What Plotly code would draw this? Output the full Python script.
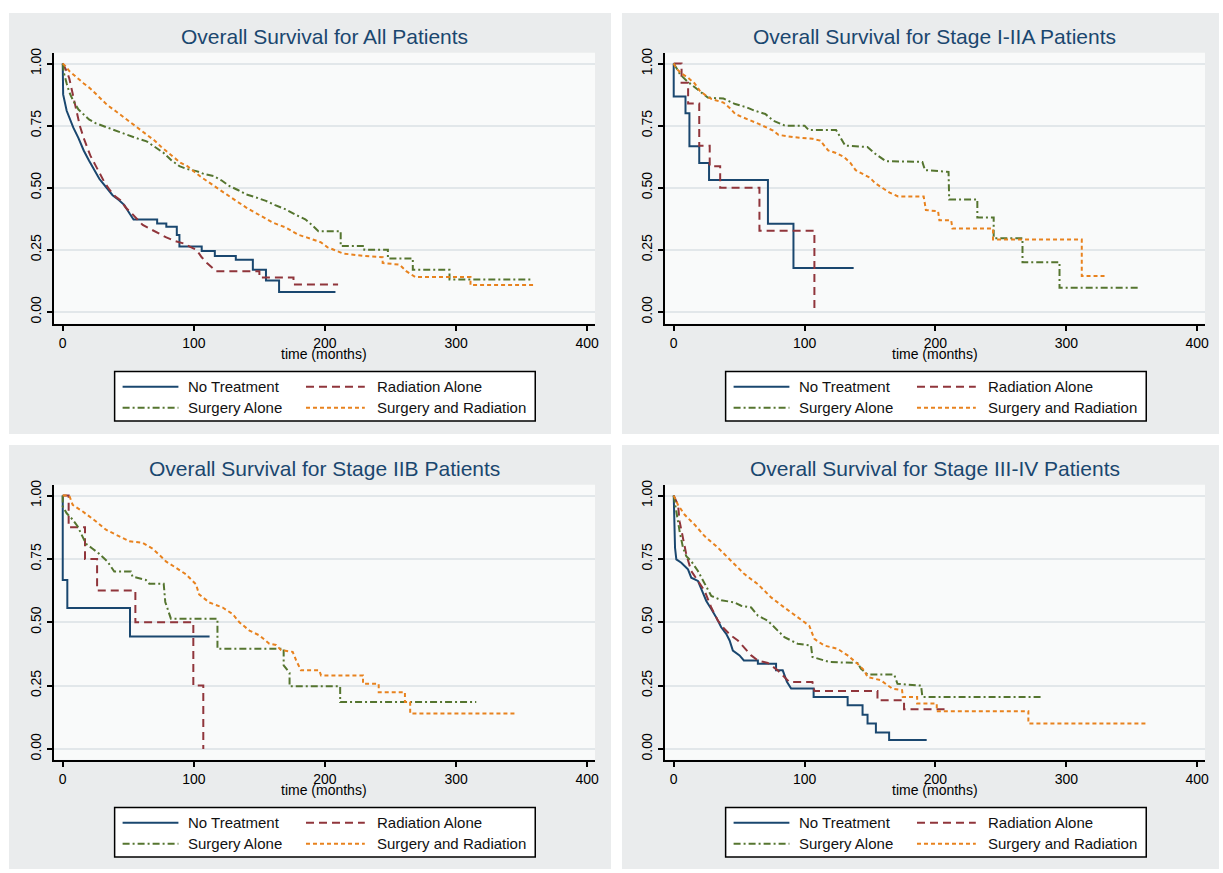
import plotly.graph_objects as go

W, H = 1223, 873

# ---------------- data ----------------
GROUPS = ["No Treatment", "Radiation Alone", "Surgery Alone", "Surgery and Radiation"]
PANEL_TITLES = [
    "Overall Survival for All Patients",
    "Overall Survival for Stage I-IIA Patients",
    "Overall Survival for Stage IIB Patients",
    "Overall Survival for Stage III-IV Patients",
]
X_TICKS = [0, 100, 200, 300, 400]
Y_TICKS = [0, 0.25, 0.5, 0.75, 1.0]
Y_TICK_TEXT = ["0.00", "0.25", "0.50", "0.75", "1.00"]
X_TITLE = "time (months)"

# Curves (step corners listed explicitly).
# Panel 1: All patients
all_nt_t = [0, 0.3, 3, 8, 12, 16, 20, 24, 28, 33, 38, 43, 47, 51, 54, 72, 72, 79, 79, 87, 87, 89, 89, 106, 106, 116, 116, 132, 132, 145, 145, 155, 155, 165, 165, 208]
all_nt_s = [1.0, 0.876, 0.81, 0.743, 0.70, 0.65, 0.61, 0.57, 0.535, 0.503, 0.47, 0.45, 0.43, 0.396, 0.372, 0.372, 0.356, 0.356, 0.343, 0.343, 0.31, 0.31, 0.263, 0.263, 0.245, 0.245, 0.225, 0.225, 0.21, 0.21, 0.17, 0.17, 0.126, 0.126, 0.08, 0.08]
all_ra_t = [0, 3, 5, 7, 9, 11, 13, 16, 19, 21, 25, 28, 32, 36, 40, 44, 48, 52, 56, 61, 66, 72, 79, 86, 92, 98, 102, 106, 110, 117, 150, 150, 176, 176, 210]
all_ra_s = [1.0, 0.97, 0.94, 0.89, 0.85, 0.79, 0.75, 0.70, 0.66, 0.63, 0.59, 0.56, 0.52, 0.49, 0.465, 0.45, 0.42, 0.40, 0.376, 0.35, 0.336, 0.32, 0.30, 0.285, 0.276, 0.26, 0.25, 0.22, 0.197, 0.164, 0.164, 0.138, 0.138, 0.11, 0.11]
all_sa_t = [0, 1, 3, 5, 8, 12, 16, 20, 25, 30, 35, 42, 49, 56, 64, 70, 77, 83, 89, 95, 102, 108, 115, 121, 127, 134, 140, 148, 155, 162, 170, 178, 185, 190, 195, 212, 212, 230, 230, 248, 248, 267, 267, 295, 295, 357]
all_sa_s = [1.0, 0.96, 0.92, 0.885, 0.85, 0.815, 0.795, 0.775, 0.76, 0.75, 0.74, 0.725, 0.713, 0.70, 0.687, 0.665, 0.64, 0.61, 0.587, 0.575, 0.567, 0.555, 0.547, 0.53, 0.507, 0.49, 0.473, 0.46, 0.447, 0.43, 0.413, 0.39, 0.373, 0.35, 0.325, 0.325, 0.265, 0.265, 0.25, 0.25, 0.215, 0.215, 0.17, 0.17, 0.13, 0.13]
all_sr_t = [0, 2, 5, 8, 12, 16, 21, 26, 30, 34, 40, 45, 49, 55, 60, 64, 70, 75, 79, 85, 90, 95, 100, 105, 110, 115, 120, 125, 130, 135, 140, 145, 150, 155, 160, 165, 170, 175, 180, 186, 192, 197, 202, 214, 230, 244, 244, 257, 262, 269, 311, 311, 361]
all_sr_s = [1.0, 0.99, 0.97, 0.956, 0.94, 0.92, 0.90, 0.875, 0.855, 0.833, 0.81, 0.79, 0.773, 0.75, 0.73, 0.713, 0.69, 0.665, 0.647, 0.62, 0.60, 0.587, 0.565, 0.545, 0.527, 0.51, 0.49, 0.473, 0.455, 0.437, 0.42, 0.405, 0.39, 0.373, 0.36, 0.35, 0.34, 0.325, 0.31, 0.30, 0.29, 0.28, 0.26, 0.235, 0.225, 0.22, 0.197, 0.19, 0.164, 0.14, 0.14, 0.108, 0.108]

# Panel 2: Stage I-IIA
e_nt_t = [0, 0, 9, 9, 12, 12, 19.5, 19.5, 27, 27, 72, 72, 91.5, 91.5, 137.5]
e_nt_s = [1.0, 0.867, 0.867, 0.80, 0.80, 0.667, 0.667, 0.60, 0.60, 0.531, 0.531, 0.355, 0.355, 0.177, 0.177]
e_ra_t = [0, 6, 6, 11, 11, 19.5, 19.5, 27.5, 27.5, 35.5, 35.5, 65.5, 65.5, 107.5, 107.5]
e_ra_s = [1.0, 1.0, 0.923, 0.923, 0.839, 0.839, 0.669, 0.669, 0.587, 0.587, 0.50, 0.50, 0.327, 0.327, 0.0]
e_sa_t = [0, 2, 5, 10, 17, 22, 26, 38, 47, 55, 62, 70, 76, 85, 100, 103, 124, 127, 131, 148, 154, 162, 190, 192, 210, 210.5, 232, 232, 244.5, 244.5, 266.5, 266.5, 294.8, 294.8, 356]
e_sa_s = [1.0, 0.98, 0.956, 0.93, 0.903, 0.88, 0.863, 0.859, 0.837, 0.825, 0.81, 0.797, 0.77, 0.75, 0.75, 0.733, 0.733, 0.706, 0.67, 0.664, 0.637, 0.607, 0.604, 0.571, 0.564, 0.453, 0.453, 0.38, 0.38, 0.297, 0.297, 0.20, 0.20, 0.097, 0.097]
e_sr_t = [0, 2, 6, 11, 16, 20, 25, 29, 38, 43, 47, 53, 59, 65, 70.6, 76, 80, 91, 106, 112, 118, 124, 130, 135, 139, 145, 150, 154, 160, 165, 171.5, 191, 192.7, 202, 203, 212, 213, 244, 244, 311.8, 311.8, 331]
e_sr_s = [1.0, 0.98, 0.96, 0.943, 0.92, 0.89, 0.87, 0.857, 0.843, 0.82, 0.797, 0.785, 0.77, 0.757, 0.744, 0.73, 0.713, 0.704, 0.697, 0.69, 0.65, 0.64, 0.624, 0.60, 0.571, 0.555, 0.54, 0.518, 0.498, 0.48, 0.465, 0.465, 0.41, 0.405, 0.369, 0.369, 0.336, 0.336, 0.292, 0.292, 0.145, 0.145]

# Panel 3: Stage IIB
m_nt_t = [0, 0, 3.5, 3.5, 51.3, 51.3, 112]
m_nt_s = [1.0, 0.667, 0.667, 0.556, 0.556, 0.444, 0.444]
m_ra_t = [0, 4.5, 4.5, 17, 17, 26.2, 26.2, 55.4, 55.4, 99.6, 99.6, 107.2, 107.2]
m_ra_s = [1.0, 1.0, 0.875, 0.875, 0.75, 0.75, 0.625, 0.625, 0.50, 0.50, 0.25, 0.25, 0.0]
m_sa_t = [0, 0, 3, 7.6, 11.4, 13.9, 17.7, 22.8, 27.9, 34.2, 39.3, 52, 53.2, 63.4, 66, 77, 78.2, 82.5, 118, 118, 168.5, 168.5, 173, 173, 211.6, 211.6, 315.4]
m_sa_s = [1.0, 0.957, 0.93, 0.905, 0.878, 0.85, 0.81, 0.79, 0.77, 0.739, 0.70, 0.70, 0.68, 0.667, 0.652, 0.652, 0.58, 0.514, 0.514, 0.395, 0.395, 0.33, 0.30, 0.247, 0.247, 0.185, 0.185]
m_sr_t = [0, 5, 7.6, 15.3, 25.4, 33, 43.2, 50.8, 61, 68.6, 73.7, 78.7, 86.4, 94, 101.6, 104, 111.8, 122, 129.6, 134.7, 142.4, 150, 157.6, 162.7, 166.5, 175.4, 178, 181.7, 195.7, 197, 229, 229, 241, 241, 261, 261, 265, 265, 345]
m_sr_s = [1.0, 1.0, 0.963, 0.937, 0.898, 0.865, 0.839, 0.82, 0.813, 0.79, 0.766, 0.74, 0.715, 0.689, 0.65, 0.61, 0.578, 0.558, 0.532, 0.50, 0.467, 0.448, 0.415, 0.41, 0.39, 0.383, 0.35, 0.31, 0.31, 0.29, 0.29, 0.257, 0.257, 0.224, 0.224, 0.185, 0.185, 0.14, 0.14]

# Panel 4: Stage III-IV
l_nt_t = [0, 0.3, 1, 2, 5.8, 10.9, 13.4, 18.5, 21.1, 24.9, 28.7, 32.5, 36.3, 40.1, 42.7, 45.2, 50.3, 53.6, 64.3, 64.3, 78.2, 78.2, 83.3, 86.5, 89.7, 106.9, 106.9, 132.9, 132.9, 144.3, 144.3, 148.1, 148.1, 154.5, 154.5, 164.6, 164.6, 193.3]
l_nt_s = [1.0, 0.859, 0.794, 0.748, 0.735, 0.709, 0.676, 0.663, 0.63, 0.584, 0.552, 0.519, 0.48, 0.454, 0.428, 0.388, 0.369, 0.349, 0.349, 0.336, 0.336, 0.31, 0.31, 0.265, 0.238, 0.238, 0.205, 0.205, 0.172, 0.172, 0.135, 0.135, 0.10, 0.10, 0.065, 0.065, 0.035, 0.035]
l_ra_t = [0, 1, 3.3, 4.5, 7.1, 9.6, 13.4, 18.5, 23.6, 28.7, 33.8, 38.8, 43.9, 49, 54, 59.2, 64.3, 71.9, 79.5, 84.6, 88.4, 106, 107.5, 155.7, 155.7, 176, 176, 210]
l_ra_s = [1.0, 0.99, 0.963, 0.898, 0.833, 0.768, 0.702, 0.663, 0.624, 0.558, 0.506, 0.473, 0.447, 0.428, 0.40, 0.369, 0.349, 0.339, 0.31, 0.284, 0.264, 0.264, 0.229, 0.229, 0.192, 0.192, 0.156, 0.156]
l_sa_t = [0, 1, 2, 4.5, 7.1, 9.6, 13.4, 18.5, 23.6, 28.7, 36.3, 46.5, 51.5, 59.2, 64.3, 71.9, 79.5, 84.6, 94.7, 104.9, 106, 118.9, 140.5, 143, 148, 168.4, 171, 189, 190, 281]
l_sa_s = [1.0, 0.96, 0.937, 0.859, 0.794, 0.761, 0.741, 0.702, 0.65, 0.604, 0.587, 0.578, 0.565, 0.558, 0.526, 0.506, 0.467, 0.441, 0.415, 0.408, 0.363, 0.343, 0.339, 0.317, 0.294, 0.294, 0.257, 0.25, 0.205, 0.205]
l_sr_t = [0, 1.5, 3.3, 8.4, 16, 23.6, 33.8, 43.9, 54, 64.3, 74.4, 84.6, 94.7, 103.6, 107.5, 115, 125.2, 132.9, 140.5, 145.6, 148, 158.2, 167, 174.5, 175, 186, 186, 201, 201, 271, 271, 361]
l_sr_s = [1.0, 0.985, 0.963, 0.924, 0.885, 0.84, 0.794, 0.742, 0.69, 0.65, 0.598, 0.558, 0.519, 0.486, 0.434, 0.408, 0.395, 0.369, 0.336, 0.31, 0.284, 0.271, 0.238, 0.232, 0.205, 0.205, 0.179, 0.179, 0.149, 0.149, 0.10, 0.10]

PANEL_DATA = [
    [(all_nt_t, all_nt_s), (all_ra_t, all_ra_s), (all_sa_t, all_sa_s), (all_sr_t, all_sr_s)],
    [(e_nt_t, e_nt_s), (e_ra_t, e_ra_s), (e_sa_t, e_sa_s), (e_sr_t, e_sr_s)],
    [(m_nt_t, m_nt_s), (m_ra_t, m_ra_s), (m_sa_t, m_sa_s), (m_sr_t, m_sr_s)],
    [(l_nt_t, l_nt_s), (l_ra_t, l_ra_s), (l_sa_t, l_sa_s), (l_sr_t, l_sr_s)],
]

# ---------------- styles / layout geometry (pixels) ----------------
STYLE = {
    "No Treatment": dict(color="#1a476f", dash="solid"),
    "Radiation Alone": dict(color="#90353b", dash="8px,5px"),
    "Surgery Alone": dict(color="#55752f", dash="7px,3px,2px,3px"),
    "Surgery and Radiation": dict(color="#e8821e", dash="4px,3px"),
}
LINE_W = 2
FONT = "Liberation Sans, Arial, sans-serif"
TITLE_COLOR = "#1a476f"
PANEL_BG = "#eaeced"
PLOT_BG = "#f9fafa"
GRID = "#e2e7ea"

PANELS = [
    dict(bg=(9, 8, 613, 432), plot=(54, 48, 597, 321), yr=(-0.048, 1.044)),
    dict(bg=(624, 8, 1223, 432), plot=(667, 48, 1209, 321), yr=(-0.048, 1.044)),
    dict(bg=(9, 443, 613, 870), plot=(54, 483, 597, 760), yr=(-0.043, 1.043)),
    dict(bg=(624, 443, 1223, 870), plot=(667, 483, 1209, 760), yr=(-0.043, 1.043)),
]
XR = (-6.8, 406)


def fx(px):
    return px / W


def fy(py):
    return 1 - py / H


fig = go.Figure()
shapes = []
annotations = []
layout_axes = {}

for i, (panel, pdata) in enumerate(zip(PANELS, PANEL_DATA)):
    n = "" if i == 0 else str(i + 1)
    xa, ya = "x" + n, "y" + n
    bx0, by0, bx1, by1 = panel["bg"]
    px0, py0, px1, py1 = panel["plot"]

    # panel background and plot region
    shapes.append(dict(type="rect", xref="paper", yref="paper", x0=fx(bx0), x1=fx(bx1),
                       y0=fy(by1), y1=fy(by0), fillcolor=PANEL_BG, line=dict(width=0), layer="below"))
    shapes.append(dict(type="rect", xref="paper", yref="paper", x0=fx(px0), x1=fx(px1),
                       y0=fy(py1), y1=fy(py0), fillcolor=PLOT_BG, line=dict(width=0), layer="below"))

    for g, (t, s) in zip(GROUPS, pdata):
        st = STYLE[g]
        fig.add_trace(go.Scatter(x=t, y=s, mode="lines", name=g, line_shape="linear",
                                 line=dict(color=st["color"], dash=st["dash"], width=LINE_W),
                                 xaxis=xa, yaxis=ya, showlegend=False))

    layout_axes["xaxis" + n] = dict(
        domain=[fx(px0), fx(px1)], anchor=ya, range=list(XR), tickvals=X_TICKS,
        showline=True, linecolor="#000", linewidth=2, ticks="outside", ticklen=5, tickwidth=2,
        tickcolor="#000", showgrid=False, zeroline=False,
        tickfont=dict(family=FONT, size=14, color="#000"))
    layout_axes["yaxis" + n] = dict(
        domain=[fy(py1), fy(py0)], anchor=xa, range=list(panel["yr"]), tickvals=Y_TICKS,
        ticktext=Y_TICK_TEXT, tickangle=-90,
        showline=True, linecolor="#000", linewidth=2, ticks="outside", ticklen=5, tickwidth=2,
        tickcolor="#000", showgrid=True, gridcolor=GRID, gridwidth=1.5, zeroline=False,
        tickfont=dict(family=FONT, size=14, color="#000"))

    cx = (px0 + px1) / 2
    annotations.append(dict(text=PANEL_TITLES[i], xref="paper", yref="paper", x=fx(cx), y=fy(py0 - 16),
                            xanchor="center", yanchor="middle", showarrow=False,
                            font=dict(family=FONT, size=21, color=TITLE_COLOR)))
    annotations.append(dict(text=X_TITLE, xref="paper", yref="paper", x=fx(cx), y=fy(py1 + 30),
                            xanchor="center", yanchor="middle", showarrow=False,
                            font=dict(family=FONT, size=14, color="#000")))

    # legend box
    lx0 = px0 + 61
    ly0 = py1 + 48
    lx1, ly1 = lx0 + 422, ly0 + 50
    shapes.append(dict(type="rect", xref="paper", yref="paper", x0=fx(lx0), x1=fx(lx1),
                       y0=fy(ly1), y1=fy(ly0), fillcolor="#ffffff",
                       line=dict(color="#000", width=1.5), layer="above"))
    cols = [(lx0 + 8, lx0 + 64, lx0 + 72), (lx0 + 192, lx0 + 251, lx0 + 261)]
    rows = [ly0 + 15.5, ly0 + 36.5]
    order = [("No Treatment", 0, 0), ("Radiation Alone", 1, 0),
             ("Surgery Alone", 0, 1), ("Surgery and Radiation", 1, 1)]
    for g, c, r in order:
        a, b, tx = cols[c]
        yy = rows[r]
        st = STYLE[g]
        shapes.append(dict(type="line", xref="paper", yref="paper", x0=fx(a), x1=fx(b),
                           y0=fy(yy), y1=fy(yy), layer="above",
                           line=dict(color=st["color"], dash=st["dash"], width=LINE_W)))
        annotations.append(dict(text=g, xref="paper", yref="paper", x=fx(tx), y=fy(yy),
                                xanchor="left", yanchor="middle", showarrow=False,
                                font=dict(family=FONT, size=15, color="#111")))

fig.update_layout(
    width=W, height=H, margin=dict(l=0, r=0, t=0, b=0),
    paper_bgcolor="#ffffff", plot_bgcolor=PLOT_BG, showlegend=False,
    shapes=shapes, annotations=annotations, **layout_axes)

fig.write_html(
    "out.html",
    config={"displayModeBar": False},
    post_script=(
        "document.body.style.margin='0';document.body.style.padding='0';"
        "document.documentElement.style.overflow='hidden';"
        "var gd=document.getElementById('{plot_id}');"
        "gd.style.position='absolute';gd.style.left='0px';gd.style.top='0px';"
    ),
)
